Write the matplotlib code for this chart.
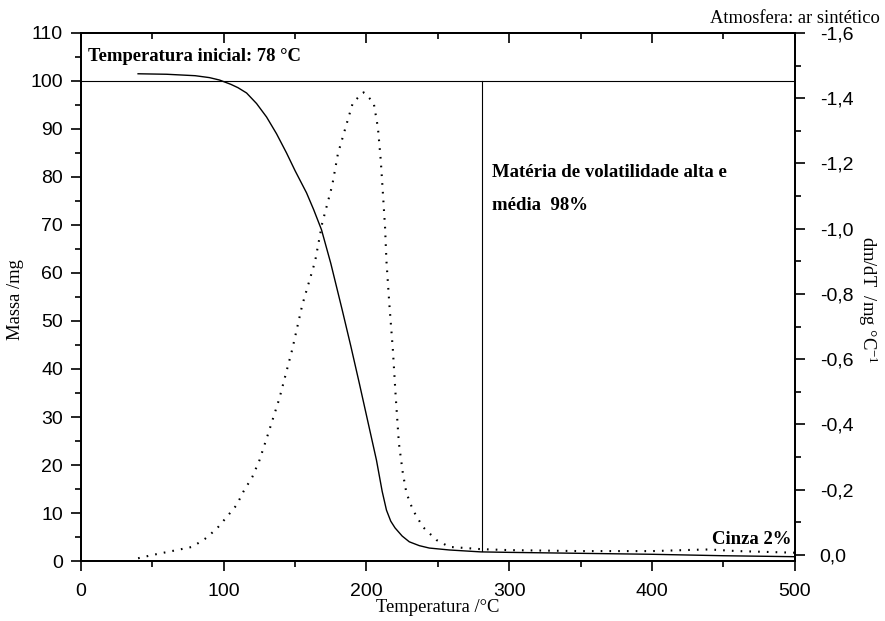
import numpy as np
import matplotlib
matplotlib.use("Agg")
import matplotlib.pyplot as plt
from matplotlib.ticker import MultipleLocator, FixedLocator, FuncFormatter

# ---------------- dados ----------------
# curva TG (massa, eixo esquerdo)
temp_tg = [40, 60, 80, 90, 97, 105, 110, 116, 123, 130, 137, 144, 150, 158, 163,
           168.5, 175, 183, 189, 195, 201, 207, 211, 214, 217, 220, 225, 230, 237,
           244, 258, 280, 300, 350, 400, 450, 500]
massa = [101.5, 101.4, 101.1, 100.7, 100.2, 99.3, 98.6, 97.5, 95.3, 92.5, 89.0, 85.0,
         81.3, 76.7, 73.2, 69.0, 62.0, 52.3, 44.8, 37.0, 29.0, 21.0, 14.5, 10.6, 8.3,
         6.9, 5.2, 4.0, 3.2, 2.7, 2.3, 1.9, 1.8, 1.6, 1.4, 1.1, 0.9]

# curva DTG (eixo direito, invertido)
temp_dtg = [40, 50, 67, 78, 87, 95, 102, 109, 114, 120, 125, 131, 139, 148, 155, 164,
            169, 176, 180, 186, 190.5, 198, 205, 208, 210, 211.5, 213, 214, 216, 218.5,
            220.5, 222.7, 225.5, 228, 232.5, 239.5, 249, 258, 280, 300, 350, 400, 430,
            440, 460, 500]
dtg = [0.01, 0.0, -0.015, -0.025, -0.05, -0.08, -0.116, -0.153, -0.196, -0.239, -0.29,
       -0.37, -0.48, -0.63, -0.766, -0.90, -1.017, -1.133, -1.23, -1.32, -1.387, -1.418,
       -1.387, -1.31, -1.21, -1.109, -1.005, -0.90, -0.77, -0.628, -0.484, -0.343, -0.25,
       -0.19, -0.138, -0.086, -0.046, -0.025, -0.018, -0.015, -0.012, -0.012, -0.016,
       -0.017, -0.012, -0.007]

x_ticks = [0, 100, 200, 300, 400, 500]
y_ticks = [0, 10, 20, 30, 40, 50, 60, 70, 80, 90, 100, 110]
y2_ticks = [0.0, -0.2, -0.4, -0.6, -0.8, -1.0, -1.2, -1.4, -1.6]

t_inicio_pico = 281   # linha vertical
massa_inicial = 100

serif = ["Liberation Serif", "DejaVu Serif"]
sans = ["Liberation Sans", "DejaVu Sans"]

plt.rcParams["mathtext.fontset"] = "custom"
plt.rcParams["mathtext.rm"] = "Liberation Serif"
plt.rcParams["mathtext.it"] = "Liberation Serif:italic"

fig = plt.figure(figsize=(8.85, 6.21), dpi=100)
ax = fig.add_axes([0.0915, 0.0966, 0.8065, 0.8503])
ax2 = ax.twinx()

ax.plot(temp_tg, massa, color="black", lw=1.0)
ax2.plot(temp_dtg, dtg, color="black", lw=1.5, linestyle=(0, (0.8, 3.4)))

ax.axhline(massa_inicial, color="black", lw=0.8)
ax.plot([t_inicio_pico, t_inicio_pico], [massa_inicial, 2.1], color="black", lw=0.8)

ax.set_xlim(0, 500)
ax.set_ylim(0, 110)
ax2.set_ylim(0.0184, -1.6)

ax.xaxis.set_major_locator(FixedLocator(x_ticks))
ax.xaxis.set_minor_locator(MultipleLocator(50))
ax.yaxis.set_major_locator(FixedLocator(y_ticks))
ax.yaxis.set_minor_locator(MultipleLocator(5))
ax2.yaxis.set_major_locator(FixedLocator(y2_ticks))
ax2.yaxis.set_minor_locator(MultipleLocator(0.1))
ax2.yaxis.set_major_formatter(FuncFormatter(lambda v, p: ("%.1f" % v).replace(".", ",")))

for a in (ax, ax2):
    for s in a.spines.values():
        s.set_linewidth(1.3)
ax.tick_params(which="major", direction="out", length=7, width=1.2, labelsize=14, pad=6)
ax.tick_params(which="minor", direction="out", length=4.5, width=1.2)
ax.tick_params(axis="x", which="major", pad=9)
ax2.tick_params(which="major", direction="out", length=7, width=1.2, labelsize=14, pad=11)
ax2.tick_params(which="minor", direction="out", length=4.5, width=1.2)
for lab in ax.get_xticklabels() + ax.get_yticklabels() + ax2.get_yticklabels():
    lab.set_family(sans)

# ticks do topo, para dentro
top = ax.secondary_xaxis("top")
top.xaxis.set_major_locator(FixedLocator(x_ticks))
top.xaxis.set_minor_locator(MultipleLocator(50))
top.tick_params(which="major", direction="in", length=7, width=1.2, labeltop=False)
top.tick_params(which="minor", direction="in", length=4.5, width=1.2)
top.spines["top"].set_linewidth(1.3)

# textos
ax.text(5, 105, "Temperatura inicial: 78 °C", family=serif, weight="bold",
        fontsize=13.4, ha="left", va="center")
ax.text(288, 81, "Matéria de volatilidade alta e", family=serif, weight="bold",
        fontsize=13.5, ha="left", va="center")
ax.text(288, 74, "média  98%", family=serif, weight="bold",
        fontsize=13.5, ha="left", va="center")
ax.text(442, 4.5, "Cinza 2%", family=serif, weight="bold",
        fontsize=13.5, ha="left", va="center")

fig.text(0.994, 0.971, "Atmosfera: ar sintético", family=serif, fontsize=13.3,
         ha="right", va="center")
fig.text(0.495, 0.021, "Temperatura /°C", family=serif, fontsize=13.4,
         ha="center", va="center")
fig.text(0.018, 0.517, "Massa /mg", family=serif, fontsize=13.4,
         ha="center", va="center", rotation=90)
fig.text(0.981, 0.517, "dm/dT  /mg °C$^{\\mathrm{-1}}$", family=serif, fontsize=13.4,
         ha="center", va="center", rotation=270)

fig.savefig("out.png", dpi=100)
